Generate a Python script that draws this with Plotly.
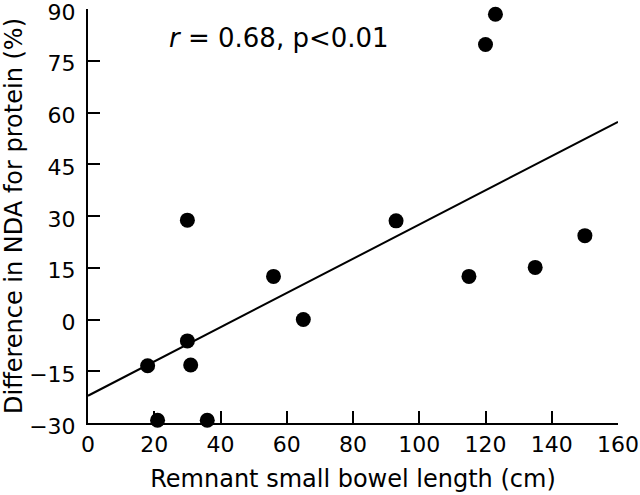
import plotly.graph_objects as go

# Data
length_cm = [30, 18, 21, 30, 31, 36, 56, 65, 93, 115, 120, 123, 135, 150]
diff_pct = [28.8, -13.4, -29.2, -6.2, -13.2, -29.2, 12.5, 0.0, 28.6, 12.5, 79.7, 88.5, 15.1, 24.3]

fit_x = [0, 160]
fit_y = [-22.1, 57.3]

x_ticks = [0, 20, 40, 60, 80, 100, 120, 140, 160]
y_ticks = [-30, -15, 0, 15, 30, 45, 60, 75, 90]

FONT = "DejaVu Sans"
TICK_FS = 22
TITLE_FS = 24

fig = go.Figure()
fig.add_trace(go.Scatter(x=fit_x, y=fit_y, mode="lines",
                         line=dict(color="black", width=2), showlegend=False,
                         cliponaxis=False))
fig.add_trace(go.Scatter(x=length_cm, y=diff_pct, mode="markers",
                         marker=dict(color="black", size=15), showlegend=False,
                         cliponaxis=False))

axis_common = dict(showgrid=False, zeroline=False, showline=True, linecolor="black",
                   linewidth=2, ticks="inside", ticklen=12, tickwidth=2, tickcolor="black",
                   automargin=False, ticklabeloverflow="allow",
                   tickfont=dict(family=FONT, size=TICK_FS, color="black"))

fig.update_xaxes(range=[0, 160], tickvals=x_ticks,
                 title=dict(text="Remnant small bowel length (cm)",
                            font=dict(family=FONT, size=TITLE_FS, color="black"), standoff=14),
                 ticklabelstandoff=1,
                 **axis_common)
fig.update_yaxes(range=[-30, 90], tickvals=y_ticks,
                 ticktext=[str(v).replace("-", "\u2212") for v in y_ticks],
                 title=dict(text="Difference in NDA for protein (%)",
                            font=dict(family=FONT, size=TITLE_FS, color="black"), standoff=6),
                 ticklabelstandoff=6, ticklabelshift=3,
                 **axis_common)

fig.add_annotation(x=23.8, y=81.5, xref="x", yref="y", xanchor="left", yanchor="middle",
                   text="<i>r</i> = 0.68, p<0.01", showarrow=False,
                   font=dict(family=FONT, size=26, color="black"))

fig.update_layout(width=640, height=495, plot_bgcolor="white", paper_bgcolor="white",
                  margin=dict(l=88, r=22, t=9, b=72))

fig.write_html("out.html", config={"displayModeBar": False},
               post_script="document.body.style.margin='0';document.body.style.overflow='hidden';")
